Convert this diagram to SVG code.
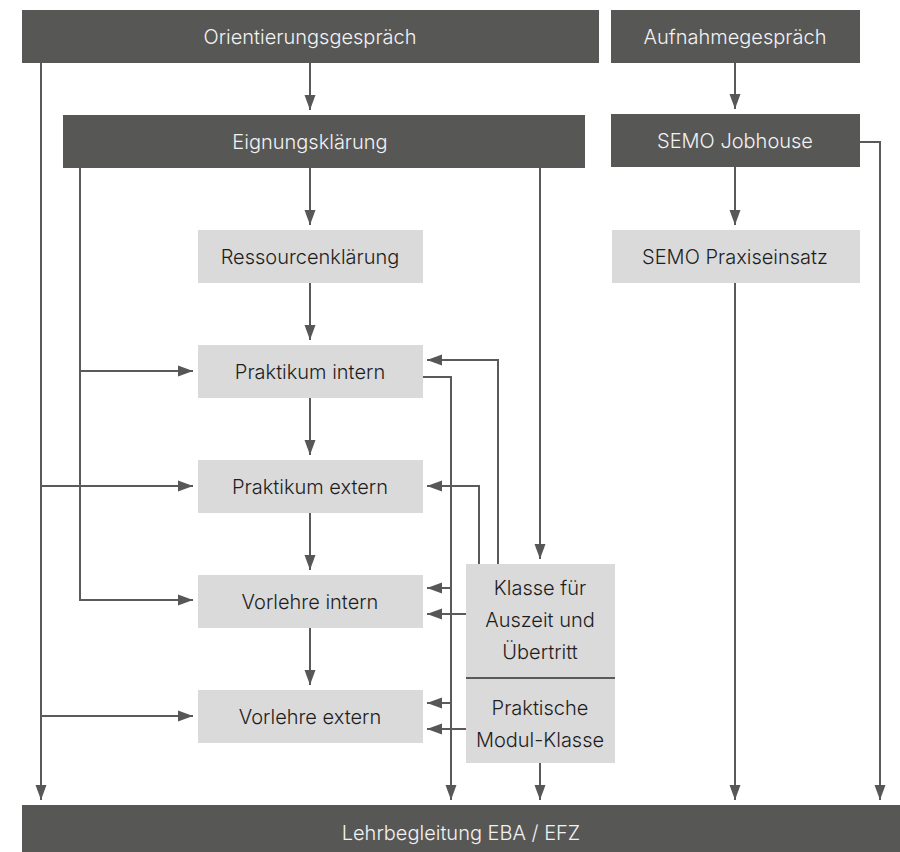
<svg xmlns="http://www.w3.org/2000/svg" width="900" height="852" viewBox="0 0 900 852">
<defs>
<marker id="ah" markerUnits="userSpaceOnUse" markerWidth="15" markerHeight="12" refX="15" refY="6" orient="auto">
<path d="M0,0.5 L15,6 L0,11.5 z" fill="#575756"/>
</marker>
<style>
.dk{fill:#575756}
.lt{fill:#dadada}
.tw{font-family:Inter,"Liberation Sans",sans-serif;font-weight:300;font-size:20px;fill:#f2f2f2;text-anchor:middle}
.tb{font-family:Inter,"Liberation Sans",sans-serif;font-weight:300;font-size:20px;fill:#1e1e1e;text-anchor:middle}
.c{fill:none;stroke:#5a5a5a;stroke-width:2}
.a{marker-end:url(#ah)}
</style>
</defs>
<rect width="900" height="852" fill="#ffffff"/>
<g id="connectors">
<path class="c a" d="M41,63 V800"/>
<path class="c a" d="M310,63 V110"/>
<path class="c a" d="M735,63 V109"/>
<path class="c a" d="M80,168 V600 H193"/>
<path class="c a" d="M80,371 H193"/>
<path class="c a" d="M41,486 H193"/>
<path class="c a" d="M41,716 H193"/>
<path class="c a" d="M310,168 V225"/>
<path class="c a" d="M310,283 V340"/>
<path class="c a" d="M310,398 V455"/>
<path class="c a" d="M310,513 V570"/>
<path class="c a" d="M310,628 V685"/>
<path class="c a" d="M540,168 V559"/>
<path class="c a" d="M423,377 H451 V800"/>
<path class="c a" d="M498,564 V360 H427"/>
<path class="c a" d="M479,564 V486 H427"/>
<path class="c a" d="M451,588 H427"/>
<path class="c a" d="M466,614 H427"/>
<path class="c a" d="M451,703 H427"/>
<path class="c a" d="M466,729 H427"/>
<path class="c a" d="M540,763 V800"/>
<path class="c a" d="M735,167 V225"/>
<path class="c a" d="M735,283 V800"/>
<path class="c a" d="M860,142 H880 V800"/>
</g>
<g id="orientierung"><rect class="dk" x="22" y="10" width="577" height="53"/><text class="tw" x="310" y="44">Orientierungsgespräch</text></g>
<g id="aufnahme"><rect class="dk" x="611" y="10" width="249" height="53"/><text class="tw" x="735" y="44">Aufnahmegespräch</text></g>
<g id="eignung"><rect class="dk" x="63" y="115" width="522" height="53"/><text class="tw" x="310" y="149">Eignungsklärung</text></g>
<g id="jobhouse"><rect class="dk" x="611" y="114" width="249" height="53"/><text class="tw" x="735" y="148">SEMO Jobhouse</text></g>
<g id="ressource"><rect class="lt" x="198" y="230" width="225" height="53"/><text class="tb" x="310" y="264">Ressourcenklärung</text></g>
<g id="praxiseinsatz"><rect class="lt" x="612" y="230" width="248" height="53"/><text class="tb" x="735" y="264">SEMO Praxiseinsatz</text></g>
<g id="praktikum-intern"><rect class="lt" x="198" y="345" width="225" height="53"/><text class="tb" x="310" y="379">Praktikum intern</text></g>
<g id="praktikum-extern"><rect class="lt" x="198" y="460" width="225" height="53"/><text class="tb" x="310" y="494">Praktikum extern</text></g>
<g id="vorlehre-intern"><rect class="lt" x="198" y="575" width="225" height="53"/><text class="tb" x="310" y="609">Vorlehre intern</text></g>
<g id="vorlehre-extern"><rect class="lt" x="198" y="690" width="225" height="53"/><text class="tb" x="310" y="724">Vorlehre extern</text></g>
<g id="klasse">
<rect class="lt" x="466" y="564" width="149" height="199"/>
<line x1="466" y1="678" x2="615" y2="678" stroke="#5a5a5a" stroke-width="2"/>
<text class="tb" x="540" y="595">Klasse für</text>
<text class="tb" x="540" y="627">Auszeit und</text>
<text class="tb" x="540" y="659">Übertritt</text>
<text class="tb" x="540" y="715">Praktische</text>
<text class="tb" x="540" y="747">Modul-Klasse</text>
</g>
<g id="lehrbegleitung"><rect class="dk" x="22" y="805" width="878" height="47"/><text class="tw" x="461" y="840">Lehrbegleitung EBA / EFZ</text></g>
</svg>
